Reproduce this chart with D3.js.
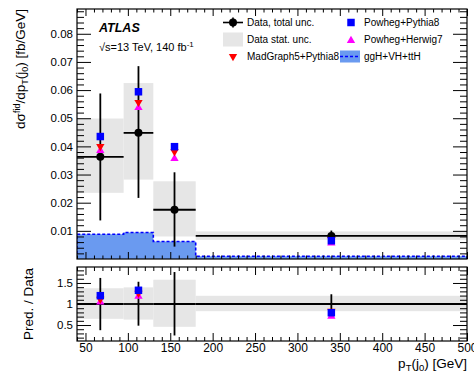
<!DOCTYPE html>
<html>
<head>
<meta charset="utf-8">
<script src="https://cdn.jsdelivr.net/npm/d3@7"></script>
<style>
  body { margin: 0; background: #fff; }
  svg { font-family: "Liberation Sans", Arial, sans-serif; }
</style>
</head>
<body>
<div id="chart"></div>
<script>
// bins of leading jet pT [GeV]
const binEdges = [40, 95, 130, 180, 500];
const binCenters = [67.5, 112.5, 155, 340];

// measured cross-section [fb/GeV]
const dataVal = [0.0363, 0.0448, 0.0175, 0.0082];
const totUp = [0.0588, 0.0685, 0.0308, 0.0101];
const totDown = [0.0137, 0.0217, 0.0044, 0.0063];
const statUp = [0.0499, 0.0625, 0.0276, 0.0098];
const statDown = [0.0235, 0.0282, 0.0080, 0.0068];

// predictions
const powhegPythia = [0.0435, 0.0594, 0.0399, 0.0065];
const powhegHerwig = [0.0389, 0.0541, 0.0360, 0.0060];
const madgraph = [0.0396, 0.0553, 0.0378, 0.0066];
const xh = [0.0088, 0.0094, 0.0062, 0.0010];

const yTicks = [0.01, 0.02, 0.03, 0.04, 0.05, 0.06, 0.07, 0.08];
const ratioTicks = [0.5, 1, 1.5];
const xTicks = [50, 100, 150, 200, 250, 300, 350, 400, 450, 500];

const W = 474, H = 374;
const left = 77, right = 467;
const top1 = 9, bot1 = 259, top2 = 267, bot2 = 341;

const svg = d3.select("#chart").append("svg")
  .attr("width", W).attr("height", H);

const x = d3.scaleLinear().domain([40, 500]).range([left, right]);
const y = d3.scaleLinear().domain([0, 0.0888]).range([bot1, top1]);
const yr = d3.scaleLinear().domain([0.12, 1.88]).range([bot2, top2]);

const grey = "#e6e6e6";
const histFill = "#6a9af0";

svg.append("clipPath").attr("id", "c1").append("rect")
  .attr("x", left).attr("y", top1).attr("width", right - left).attr("height", bot1 - top1);
svg.append("clipPath").attr("id", "c2").append("rect")
  .attr("x", left).attr("y", top2).attr("width", right - left).attr("height", bot2 - top2);

const bins = d3.range(binCenters.length).map(i => ({
  lo: binEdges[i], hi: binEdges[i + 1], c: binCenters[i],
  v: dataVal[i], up: totUp[i], dn: totDown[i], su: statUp[i], sd: statDown[i],
  pp: powhegPythia[i], ph: powhegHerwig[i], mg: madgraph[i], xh: xh[i]
}));

const sq = d3.symbol().type(d3.symbolSquare).size(56);
const triUp = d3.symbol().type(d3.symbolTriangle).size(30);

function drawMarkers(g, ys, val) {
  // magenta up-triangle, red down-triangle, blue square
  g.selectAll(".mh").data(bins).join("path")
    .attr("class", "mh")
    .attr("d", triUp).attr("fill", "#ff00ff")
    .attr("transform", d => `translate(${x(d.c)},${ys(val(d, "ph")) + 1})`);
  g.selectAll(".mm").data(bins).join("path")
    .attr("class", "mm")
    .attr("d", triUp).attr("fill", "#ff0000")
    .attr("transform", d => `translate(${x(d.c)},${ys(val(d, "mg")) - 1}) rotate(180)`);
  g.selectAll(".mp").data(bins).join("path")
    .attr("class", "mp")
    .attr("d", sq).attr("fill", "#0000ff")
    .attr("transform", d => `translate(${x(d.c)},${ys(val(d, "pp"))})`);
}

// ---------- top panel ----------
const g1 = svg.append("g").attr("clip-path", "url(#c1)");

g1.selectAll(".stat").data(bins).join("rect")
  .attr("x", d => x(d.lo)).attr("width", d => x(d.hi) - x(d.lo))
  .attr("y", d => y(d.su)).attr("height", d => y(d.sd) - y(d.su))
  .attr("fill", grey);

const histPts = [];
bins.forEach(d => { histPts.push([d.lo, d.xh]); histPts.push([d.hi, d.xh]); });
const area = d3.area().x(d => x(d[0])).y0(y(0)).y1(d => y(d[1]));
const line = d3.line().x(d => x(d[0])).y(d => y(d[1]));
g1.append("path").datum(histPts).attr("d", area).attr("fill", histFill);
g1.append("path")
  .datum([[binEdges[0], 0], ...histPts, [binEdges[binEdges.length - 1], 0]])
  .attr("d", line).attr("fill", "none")
  .attr("stroke", "#0000ff").attr("stroke-width", 1.6).attr("stroke-dasharray", "3,2");

// data
g1.selectAll(".hbar").data(bins).join("line")
  .attr("x1", d => x(d.lo)).attr("x2", d => x(d.hi))
  .attr("y1", d => y(d.v)).attr("y2", d => y(d.v))
  .attr("stroke", "#000").attr("stroke-width", 1.8);
g1.selectAll(".vbar").data(bins).join("line")
  .attr("x1", d => x(d.c)).attr("x2", d => x(d.c))
  .attr("y1", d => y(d.up)).attr("y2", d => y(d.dn))
  .attr("stroke", "#000").attr("stroke-width", 1.8);
g1.selectAll(".pt").data(bins).join("circle")
  .attr("cx", d => x(d.c)).attr("cy", d => y(d.v)).attr("r", 4).attr("fill", "#000");

drawMarkers(g1.append("g"), y, (d, k) => d[k]);

// ---------- ratio panel ----------
const g2 = svg.append("g").attr("clip-path", "url(#c2)");
g2.selectAll(".rstat").data(bins).join("rect")
  .attr("x", d => x(d.lo)).attr("width", d => x(d.hi) - x(d.lo))
  .attr("y", d => yr(d.su / d.v)).attr("height", d => yr(d.sd / d.v) - yr(d.su / d.v))
  .attr("fill", grey);
g2.selectAll(".rh").data(bins).join("line")
  .attr("x1", d => x(d.lo)).attr("x2", d => x(d.hi))
  .attr("y1", yr(1)).attr("y2", yr(1))
  .attr("stroke", "#000").attr("stroke-width", 1.8);
g2.selectAll(".rv").data(bins).join("line")
  .attr("x1", d => x(d.c)).attr("x2", d => x(d.c))
  .attr("y1", d => yr(d.up / d.v)).attr("y2", d => yr(d.dn / d.v))
  .attr("stroke", "#000").attr("stroke-width", 1.8);
drawMarkers(g2.append("g"), yr, (d, k) => d[k] / d.v);

// ---------- axes ----------
function clean(g) { g.select(".domain").remove(); return g; }
const fmtNone = () => "";

function frameAxes(yScale, yt, yMinor, yLen, xLen, xMinLen, yTop, yBot, showX) {
  const ax = svg.append("g");
  // left
  ax.append("g").attr("transform", `translate(${left},0)`)
    .call(d3.axisLeft(yScale).tickValues(yt).tickSize(-yLen).tickPadding(4).tickFormat(d => d))
    .call(clean).call(g => g.selectAll("text").attr("font-size", 11.5).attr("fill", "#000"));
  ax.append("g").attr("transform", `translate(${left},0)`)
    .call(d3.axisLeft(yScale).tickValues(yMinor).tickSize(-yLen / 2).tickFormat(fmtNone)).call(clean);
  // right
  ax.append("g").attr("transform", `translate(${right},0)`)
    .call(d3.axisRight(yScale).tickValues(yt).tickSize(-yLen).tickFormat(fmtNone)).call(clean);
  ax.append("g").attr("transform", `translate(${right},0)`)
    .call(d3.axisRight(yScale).tickValues(yMinor).tickSize(-yLen / 2).tickFormat(fmtNone)).call(clean);
  const xMinor = d3.range(40, 501, 10).filter(v => v % 50 !== 0);
  // bottom
  ax.append("g").attr("transform", `translate(0,${yBot})`)
    .call(d3.axisBottom(x).tickValues(xTicks).tickSize(-xLen).tickPadding(2.5)
      .tickFormat(showX ? (d => d) : fmtNone))
    .call(clean).call(g => g.selectAll("text").attr("font-size", 12).attr("fill", "#000"));
  ax.append("g").attr("transform", `translate(0,${yBot})`)
    .call(d3.axisBottom(x).tickValues(xMinor).tickSize(-xMinLen).tickFormat(fmtNone)).call(clean);
  // top
  ax.append("g").attr("transform", `translate(0,${yTop})`)
    .call(d3.axisTop(x).tickValues(xTicks).tickSize(-xLen).tickFormat(fmtNone)).call(clean);
  ax.append("g").attr("transform", `translate(0,${yTop})`)
    .call(d3.axisTop(x).tickValues(xMinor).tickSize(-xMinLen).tickFormat(fmtNone)).call(clean);
  ax.selectAll("line").attr("stroke", "#000").attr("stroke-width", 1);
  svg.append("rect").attr("x", left).attr("y", yTop)
    .attr("width", right - left).attr("height", yBot - yTop)
    .attr("fill", "none").attr("stroke", "#000").attr("stroke-width", 1.2);
}

const yMinor1 = d3.range(1, 45).map(i => +(i * 0.002).toFixed(3)).filter(v => Math.round(v * 1000) % 10 !== 0);
frameAxes(y, yTicks, yMinor1, 14, 7, 3.5, top1, bot1, false);
const yMinor2 = d3.range(2, 19).map(i => +(i * 0.1).toFixed(1)).filter(v => Math.round(v * 10) % 5 !== 0);
frameAxes(yr, ratioTicks, yMinor2, 14, 8, 4, top2, bot2, true);

// ---------- titles ----------
const yt = svg.append("text")
  .attr("transform", `translate(25,${top1}) rotate(-90)`)
  .attr("text-anchor", "end").attr("font-size", 13.5);
yt.append("tspan").text("dσ");
yt.append("tspan").attr("font-size", 9).attr("dy", -5).text("fid");
yt.append("tspan").attr("dy", 5).text("/dp");
yt.append("tspan").attr("font-size", 9).attr("dy", 3).text("T");
yt.append("tspan").attr("dy", -3).text("(j");
yt.append("tspan").attr("font-size", 9).attr("dy", 3).text("0");
yt.append("tspan").attr("dy", -3).text(") [fb/GeV]");

svg.append("text")
  .attr("transform", `translate(33,${(top2 + bot2) / 2}) rotate(-90)`)
  .attr("text-anchor", "middle").attr("font-size", 13.5).text("Pred. / Data");

const xt = svg.append("text")
  .attr("x", right).attr("y", 367.5).attr("text-anchor", "end").attr("font-size", 13.5);
xt.append("tspan").text("p");
xt.append("tspan").attr("font-size", 9.5).attr("dy", 3).text("T");
xt.append("tspan").attr("dy", -3).text("(j");
xt.append("tspan").attr("font-size", 9.5).attr("dy", 3).text("0");
xt.append("tspan").attr("dy", -3).text(") [GeV]");

svg.append("text").attr("x", 99).attr("y", 32)
  .attr("font-size", 12.5).attr("font-weight", "bold").attr("font-style", "italic").text("ATLAS");
const lum = svg.append("text").attr("x", 99).attr("y", 51).attr("font-size", 11);
lum.append("tspan").text("√s=13 TeV, 140 fb");
lum.append("tspan").attr("font-size", 8).attr("dy", -4).text("-1");

// ---------- legend ----------
const lg = svg.append("g").attr("font-size", 10);
const rows = [22.5, 39.5, 56.5];
const c1x = 233, c1t = 247, c2x = 351, c2t = 364;
// data
lg.append("line").attr("x1", c1x - 10).attr("x2", c1x + 10).attr("y1", rows[0]).attr("y2", rows[0])
  .attr("stroke", "#000").attr("stroke-width", 1.6);
lg.append("line").attr("x1", c1x).attr("x2", c1x).attr("y1", rows[0] - 5).attr("y2", rows[0] + 5)
  .attr("stroke", "#000").attr("stroke-width", 1.6);
lg.append("circle").attr("cx", c1x).attr("cy", rows[0]).attr("r", 4).attr("fill", "#000");
lg.append("text").attr("x", c1t).attr("y", rows[0] + 3.5).text("Data, total unc.");
// stat
lg.append("rect").attr("x", c1x - 10).attr("y", rows[1] - 7).attr("width", 20).attr("height", 14).attr("fill", grey);
lg.append("text").attr("x", c1t).attr("y", rows[1] + 3.5).text("Data stat. unc.");
// madgraph
lg.append("path").attr("d", triUp).attr("fill", "#ff0000")
  .attr("transform", `translate(${c1x},${rows[2]}) rotate(180)`);
lg.append("text").attr("x", c1t).attr("y", rows[2] + 3.5).text("MadGraph5+Pythia8");
// powheg pythia
lg.append("path").attr("d", sq).attr("fill", "#0000ff").attr("transform", `translate(${c2x},${rows[0]})`);
lg.append("text").attr("x", c2t).attr("y", rows[0] + 3.5).text("Powheg+Pythia8");
// powheg herwig
lg.append("path").attr("d", triUp).attr("fill", "#ff00ff").attr("transform", `translate(${c2x},${rows[1] + 1})`);
lg.append("text").attr("x", c2t).attr("y", rows[1] + 3.5).text("Powheg+Herwig7");
// xh
lg.append("rect").attr("x", 340).attr("y", rows[2] - 6).attr("width", 20).attr("height", 12).attr("fill", histFill);
lg.append("line").attr("x1", 340).attr("x2", 360).attr("y1", rows[2]).attr("y2", rows[2])
  .attr("stroke", "#0000ff").attr("stroke-width", 1.6).attr("stroke-dasharray", "3,2");
lg.append("text").attr("x", c2t).attr("y", rows[2] + 3.5).text("ggH+VH+ttH");
</script>
</body>
</html>
